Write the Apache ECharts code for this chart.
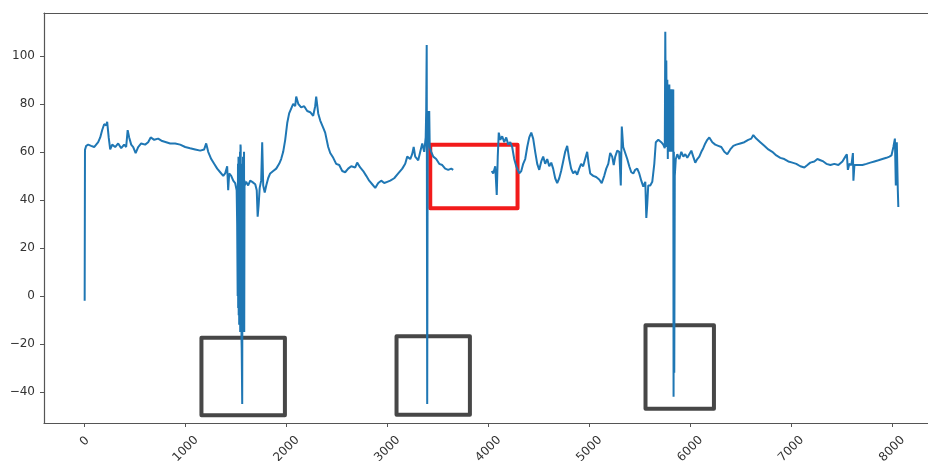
<!DOCTYPE html>
<html>
<head>
<meta charset="utf-8">
<script src="https://cdn.jsdelivr.net/npm/echarts@6/dist/echarts.min.js"></script>
<style>
  html, body { margin: 0; padding: 0; background: #fff; }
  #chart { width: 928px; height: 461px; }
</style>
</head>
<body>
<div id="chart"></div>
<script>
const xValues = [
  0, 3, 15, 35, 64, 94, 114, 134, 154, 173, 193, 213, 223, 238, 253, 273, 302, 332, 362, 391,
  411, 426, 441, 461, 481, 505, 530, 560, 599, 629, 654, 689, 728, 768, 808, 847, 897, 946, 996, 1045,
  1095, 1145, 1184, 1204, 1224, 1254, 1283, 1313, 1343, 1373, 1392, 1412, 1422, 1432, 1452, 1472, 1491,
  1506, 1511, 1516, 1519, 1521, 1524, 1526, 1529, 1531, 1534, 1536, 1539, 1541, 1544, 1546,
  1549, 1551, 1554, 1556, 1561, 1564, 1566, 1569, 1571, 1574, 1576, 1579, 1581, 1584, 1586,
  1600, 1620, 1640, 1660, 1690, 1705, 1714, 1724,
  1734, 1749, 1759, 1769, 1784, 1799, 1818, 1838, 1868, 1898, 1927, 1947, 1967, 1987, 2007, 2026, 2046, 2066, 2086, 2096,
  2116, 2145, 2175, 2205, 2235, 2264, 2284, 2294, 2314, 2334, 2364, 2383, 2413, 2433, 2463, 2492, 2522, 2552, 2581, 2611,
  2641, 2681, 2700, 2730, 2760, 2790, 2819, 2849, 2879, 2909, 2938, 2968, 2998, 3028, 3067, 3107, 3147, 3176, 3196, 3226,
  3245, 3260, 3275, 3305, 3325, 3345, 3364, 3379, 3384, 3389, 3394, 3399, 3404, 3414, 3419, 3434, 3454, 3483, 3513, 3543,
  3572, 3602, 3632, 3652, 3820, 4033, 4048, 4068, 4083, 4093, 4103, 4118, 4137, 4157, 4177, 4197, 4217, 4236, 4256, 4276,
  4306, 4326, 4345, 4365, 4385, 4405, 4425, 4444, 4464, 4484, 4504, 4524, 4543, 4563, 4583, 4603, 4623, 4642, 4662, 4682,
  4702, 4721, 4741, 4761, 4781, 4801, 4820, 4840, 4860, 4880, 4900, 4919, 4939, 4959, 4979, 4994, 5009, 5039, 5068, 5098,
  5123, 5148, 5168, 5188, 5207, 5227, 5242, 5257, 5277, 5297, 5312, 5322, 5336, 5356, 5376, 5396, 5416, 5436, 5455, 5475,
  5495, 5515, 5535, 5555, 5565, 5574, 5584, 5604, 5624, 5644, 5659, 5684, 5713, 5733,
  5748, 5753, 5758, 5763, 5768, 5773, 5778, 5783, 5788, 5793, 5798,
  5803, 5808, 5812, 5817, 5822, 5827, 5832, 5835, 5838, 5842, 5847,
  5857, 5872, 5892, 5912, 5932, 5951, 5971, 5991, 6011, 6030, 6050, 6070,
  6090, 6110, 6129, 6149, 6169, 6189, 6219, 6248, 6278, 6308, 6338, 6367, 6397, 6427, 6456, 6496, 6536, 6575, 6605, 6625,
  6654, 6694, 6734, 6774, 6813, 6853, 6893, 6932, 6972, 7012, 7051, 7091, 7131, 7161, 7190, 7230, 7260, 7290, 7319, 7349,
  7389, 7428, 7468, 7508, 7537, 7552, 7562, 7577, 7597, 7612, 7617, 7627, 7666, 7706, 7746, 7785, 7825, 7865, 7904, 7944,
  7974, 7994, 8013, 8028, 8037, 8047, 8057, 8062
];
const yValues = [
  -2, 60.8, 62.5, 63, 62.5, 62, 63, 64, 66, 69, 71.5, 71, 72.5, 66, 61, 63, 62, 63.5, 61.5, 63,
  62, 69, 66, 63, 62, 59.5, 62, 63.5, 63, 64, 66, 65, 65.5, 64.5, 64, 63.5, 63.5, 63, 62, 61.5,
  61, 60.5, 61, 63.5, 60, 57, 55, 53, 51.5, 50, 51, 54, 44, 51, 50, 48, 47,
  44, 30, 0, 55, -5, 58, -8, 50, -12, 57, -10, 60, -15, 63, 62,
  -14, 55, -18, -22, -45, 40, -12, 58, -10, 55, -14, 60, -15, 48, 46,
  47.5, 46, 48, 47.5, 46.5, 44, 33, 38,
  45, 48, 64, 46, 43, 46, 49, 51, 52, 53, 55, 57, 60, 65, 72, 76, 78, 80, 79, 83,
  80, 78.5, 79, 77, 76.5, 75, 79, 83, 76, 73, 70, 68, 62, 59.5, 57.5, 55, 54.5, 52, 51.5, 53,
  54, 53.5, 55.5, 53.5, 52, 50, 48, 46.5, 45, 47, 48, 47, 47.5, 48, 49, 51, 53, 55, 58, 57,
  59, 62, 58, 56.5, 60, 63.5, 60, 66, 77, 104.5, -45, 77, 66, 77, 62, 60, 58, 57, 55, 54.5,
  53, 52.5, 53, 52.5, null, 52, 51, 54, 42, 58, 68, 65, 66.5, 64, 66, 63, 64, 62, 57, 54,
  51, 52, 55, 57, 62, 66, 68, 65.5, 60, 55, 52.5, 56, 58, 55, 57, 54, 55.5, 53, 49, 47,
  49, 52, 56, 60, 62.5, 57, 53, 51, 52, 50.5, 53, 55, 54, 57, 60, 55, 51, 50, 49.5, 48.5,
  47, 50, 53, 55, 59.5, 58, 54.5, 58, 60.5, 60, 46, 70.5, 62, 59.5, 57, 54, 51.5, 51, 52.5, 53,
  51, 48, 45.5, 47.5, 32.5, 38, 46, 46, 47.5, 55, 64, 65, 64, 63,
  61.5, 110, 75, 98, 62, 90, 57, 86, 64, 88, 60,
  84, 62, 86, 60, 80, 64, 86, -42, 60, -32, 50,
  57, 59, 57, 60, 58, 59, 57.5, 59, 60.5, 58, 55.5, 57,
  58, 60, 61.5, 63.5, 65, 66, 64, 63, 62.5, 62, 60, 59, 61, 62.5, 63, 63.5, 64, 65, 65.5, 67,
  65.5, 64, 62.5, 61, 60, 58.5, 57.5, 57, 56, 55.5, 55, 54, 53.5, 54.5, 55.5, 56, 57, 56.5, 56, 55,
  54.5, 55, 54.5, 56, 58, 59, 52.5, 55, 54.5, 59.5, 48, 54.5, 54.5, 54.5, 55, 55.5, 56, 56.5, 57, 57.5,
  58, 58.5, 62, 65.5, 46, 64, 44, 37
];
const xTicks = [0, 1000, 2000, 3000, 4000, 5000, 6000, 7000, 8000];
const yTicks = [-40, -20, 0, 20, 40, 60, 80, 100];

// highlighted regions drawn over the plot: [x1, y1, x2, y2] in data units
const redRegion = [3424, 62.9, 4289, 36.5];
const greyRegions = [
  [1157, -17.4, 1984, -49.7],
  [3090, -16.8, 3817, -49.5],
  [5557, -12.2, 6235, -47],
];

const chart = echarts.init(document.getElementById('chart'), null, { renderer: 'canvas' });

const spineColor = '#555555';
const labelColor = '#333333';
const fontFamily = '"DejaVu Sans", sans-serif';

function minusSign(value) {
  return String(value).replace('-', '\u2212');
}

function regionItem(region, color) {
  return [
    {
      coord: [region[0], region[1]],
      itemStyle: {
        color: 'rgba(0,0,0,0)',
        borderColor: color,
        borderWidth: 4,
        borderJoin: 'round',
      },
    },
    { coord: [region[2], region[3]] },
  ];
}

const areaData = greyRegions.map((r) => regionItem(r, '#474747'))
areaData.push(regionItem(redRegion, '#f21b1b'))

chart.setOption({
  animation: false,
  grid: { left: 44, right: 0, top: 13, bottom: 38, outerBoundsMode: 'none', containLabel: false },
  xAxis: [
    {
      type: 'value',
      min: -403,
      max: 8356,
      axisLine: { show: true, onZero: false, lineStyle: { color: spineColor, width: 1.2 } },
      axisTick: { show: true, length: 4, customValues: xTicks, lineStyle: { color: spineColor } },
      axisLabel: {
        customValues: xTicks,
        rotate: 45,
        align: 'center',
        verticalAlign: 'middle',
        margin: 26,
        color: labelColor,
        fontSize: 12,
        fontFamily,
        formatter: (v) => (v === 0 ? '{z|0}' : String(v)),
        rich: {
          z: { fontSize: 12, fontFamily, color: labelColor, padding: [0, 0, 11, 11] },
        },
      },
      splitLine: { show: false },
    },
    {
      type: 'value',
      position: 'top',
      min: -403,
      max: 8356,
      axisLine: { show: true, onZero: false, lineStyle: { color: spineColor, width: 1.2 } },
      axisTick: { show: false },
      axisLabel: { show: false },
      splitLine: { show: false },
    },
  ],
  yAxis: {
    type: 'value',
    min: -52.9,
    max: 117.8,
    axisLine: { show: true, onZero: false, lineStyle: { color: spineColor, width: 1.2 } },
    axisTick: { show: true, length: 4, customValues: yTicks, lineStyle: { color: spineColor } },
    axisLabel: {
      customValues: yTicks,
      margin: 9,
      color: labelColor,
      fontSize: 12,
      fontFamily,
      formatter: minusSign,
    },
    splitLine: { show: false },
  },
  series: [
    {
      type: 'line',
      xAxisIndex: 0,
      data: xValues.map((x, i) => [x, yValues[i]]),
      showSymbol: false,
      connectNulls: false,
      lineStyle: { color: '#1f77b4', width: 2 },
      emphasis: { disabled: true },
      markArea: {
        silent: true,
        label: { show: false },
        data: areaData,
      },
    },
  ],
});
</script>
</body>
</html>
